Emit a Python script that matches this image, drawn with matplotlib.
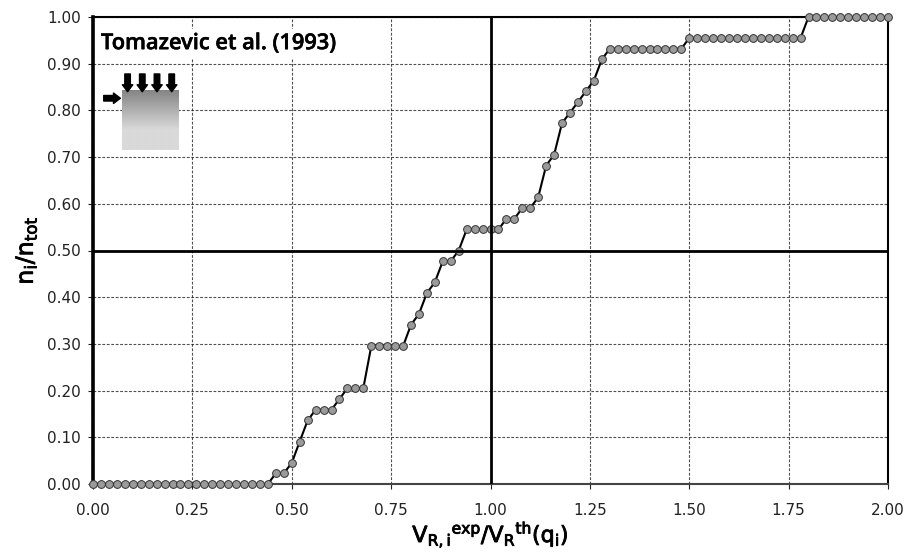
import numpy as np
import matplotlib
matplotlib.use("Agg")
import matplotlib.pyplot as plt
import matplotlib.patheffects as pe

plt.rcParams["font.family"] = "DejaVu Sans"
plt.rcParams["mathtext.fontset"] = "custom"
plt.rcParams["mathtext.rm"] = "Open Sans"
plt.rcParams["mathtext.default"] = "regular"

# cumulative distribution
ratio = [0.00, 0.02, 0.04, 0.06, 0.08, 0.10, 0.12, 0.14, 0.16, 0.18,
         0.20, 0.22, 0.24, 0.26, 0.28, 0.30, 0.32, 0.34, 0.36, 0.38,
         0.40, 0.42, 0.44, 0.46, 0.48, 0.50, 0.52, 0.54, 0.56, 0.58,
         0.60, 0.62, 0.64, 0.66, 0.68, 0.70, 0.72, 0.74, 0.76, 0.78,
         0.80, 0.82, 0.84, 0.86, 0.88, 0.90, 0.92, 0.94, 0.96, 0.98,
         1.00, 1.02, 1.04, 1.06, 1.08, 1.10, 1.12, 1.14, 1.16, 1.18,
         1.20, 1.22, 1.24, 1.26, 1.28, 1.30, 1.32, 1.34, 1.36, 1.38,
         1.40, 1.42, 1.44, 1.46, 1.48, 1.50, 1.52, 1.54, 1.56, 1.58,
         1.60, 1.62, 1.64, 1.66, 1.68, 1.70, 1.72, 1.74, 1.76, 1.78,
         1.80, 1.82, 1.84, 1.86, 1.88, 1.90, 1.92, 1.94, 1.96, 1.98,
         2.00]
fraction = [0.000, 0.000, 0.000, 0.000, 0.000, 0.000, 0.000, 0.000, 0.000, 0.000,
            0.000, 0.000, 0.000, 0.000, 0.000, 0.000, 0.000, 0.000, 0.000, 0.000,
            0.000, 0.000, 0.000, 0.023, 0.023, 0.045, 0.091, 0.136, 0.159, 0.159,
            0.159, 0.182, 0.205, 0.205, 0.205, 0.295, 0.295, 0.295, 0.295, 0.295,
            0.341, 0.364, 0.409, 0.432, 0.477, 0.477, 0.500, 0.545, 0.545, 0.545,
            0.545, 0.545, 0.568, 0.568, 0.591, 0.591, 0.614, 0.682, 0.705, 0.773,
            0.795, 0.818, 0.841, 0.864, 0.909, 0.932, 0.932, 0.932, 0.932, 0.932,
            0.932, 0.932, 0.932, 0.932, 0.932, 0.955, 0.955, 0.955, 0.955, 0.955,
            0.955, 0.955, 0.955, 0.955, 0.955, 0.955, 0.955, 0.955, 0.955, 0.955,
            1.000, 1.000, 1.000, 1.000, 1.000, 1.000, 1.000, 1.000, 1.000, 1.000,
            1.000]

x_ticks = [0.00, 0.25, 0.50, 0.75, 1.00, 1.25, 1.50, 1.75, 2.00]
y_ticks = [0.00, 0.10, 0.20, 0.30, 0.40, 0.50, 0.60, 0.70, 0.80, 0.90, 1.00]
title = "Tomazevic et al. (1993)"

fig = plt.figure(figsize=(9.08, 5.55), dpi=100)
ax = fig.add_axes([93 / 908, 1 - 484 / 555, 795 / 908, 467 / 555])

ax.set_xlim(0, 2)
ax.set_ylim(0, 1)
ax.set_xticks(x_ticks)
ax.set_yticks(y_ticks)
ax.set_xticklabels([f"{v:.2f}" for v in x_ticks], fontsize=11, color="#222222")
ax.set_yticklabels([f"{v:.2f}" for v in y_ticks], fontsize=11, color="#222222")
ax.tick_params(axis="x", length=3.5, width=0.8, color="#222222", pad=10)
ax.tick_params(axis="y", length=3.5, width=0.8, color="#222222", pad=5)
ax.grid(True, color="#222222", linestyle=(0, (2.5, 1.5)), linewidth=0.8, alpha=0.8)
ax.set_axisbelow(True)

ax.spines["left"].set_linewidth(2.6)
ax.spines["right"].set_linewidth(1.5)
ax.spines["top"].set_linewidth(1.5)
ax.spines["bottom"].set_linewidth(1.5)
ax.spines["bottom"].set_color("#444444")

ax.plot(ratio, fraction, "-", color="black", linewidth=1.5, zorder=3, clip_on=False)
ax.plot(ratio, fraction, "o", markersize=5.6, markerfacecolor="#9a9a9a",
        markeredgecolor="#333333", markeredgewidth=0.7, zorder=4, clip_on=False)

# reference lines at 1.00 and 0.50
ax.axvline(1.0, color="black", linewidth=2, zorder=5)
ax.axhline(0.5, color="black", linewidth=2, zorder=5)

ax.text(0.02, 0.943, title, fontsize=15.7, family="Open Sans", weight="semibold", color="black",
        va="center", ha="left", zorder=6,
        path_effects=[pe.withStroke(linewidth=0.4, foreground="black")],
        bbox=dict(facecolor="white", edgecolor="none", pad=3))

# small wall sketch
gradient = np.concatenate([np.linspace(0.52, 0.85, 40), np.full(20, 0.85)]).reshape(-1, 1)
ax.imshow(gradient, cmap="gray", vmin=0, vmax=1, extent=(0.072, 0.215, 0.715, 0.843),
          aspect="auto", zorder=2, interpolation="bilinear")
ax.set_xlim(0, 2)
ax.set_ylim(0, 1)
arrow_style = "simple,head_width=0.75,head_length=0.5,tail_width=0.4"
for ax_x in [0.087, 0.124, 0.161, 0.198]:
    ax.annotate("", xy=(ax_x, 0.84), xytext=(ax_x, 0.878),
                arrowprops=dict(arrowstyle=arrow_style, color="black", shrinkA=0, shrinkB=0), zorder=6)
ax.annotate("", xy=(0.069, 0.826), xytext=(0.027, 0.826),
            arrowprops=dict(arrowstyle=arrow_style, color="black", shrinkA=0, shrinkB=0), zorder=6)

# the labels are heavier than the regular face, a thin stroke thickens them
heavy = [pe.withStroke(linewidth=0.6, foreground="black")]
ax.set_xlabel(r"$V_{R,i}{}^{exp}/V_R{}^{th}(q_i)$", fontsize=16, labelpad=1, path_effects=heavy)
ax.set_ylabel(r"$n_i/n_{tot}$", fontsize=17, labelpad=6, path_effects=heavy)

fig.savefig("out.png", dpi=100)
